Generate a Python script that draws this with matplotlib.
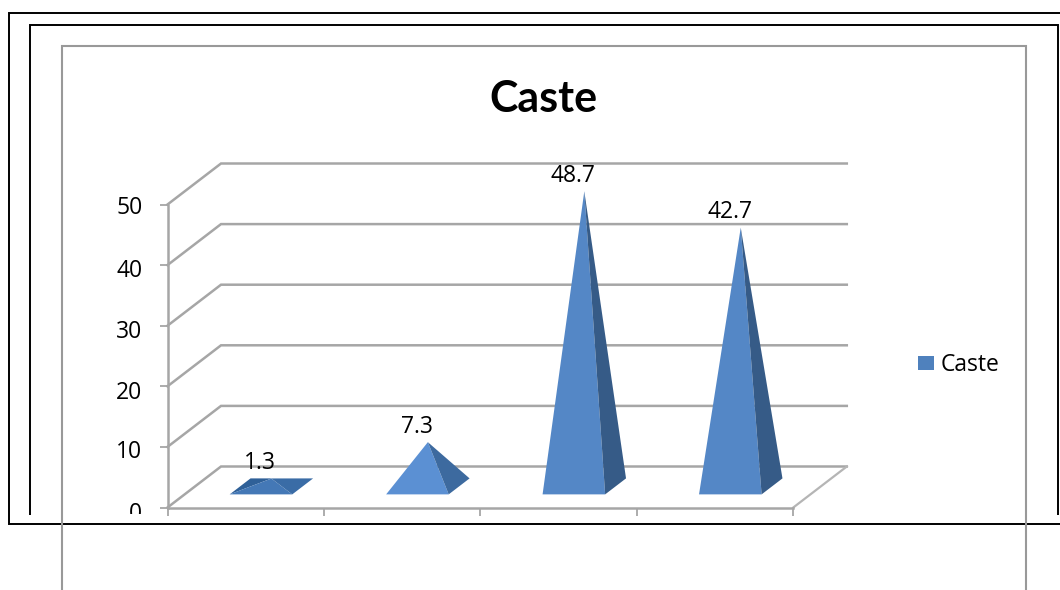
import matplotlib
matplotlib.use("Agg")
import matplotlib.pyplot as plt
from matplotlib.lines import Line2D
from matplotlib.patches import Patch, Polygon
from matplotlib.transforms import Bbox, Affine2D

W, H = 1060, 590

categories = ["1", "2", "3", "4"]
values = [1.3, 7.3, 48.7, 42.7]
value_ticks = [0, 10, 20, 30, 40, 50]
series_name = "Caste"

plt.rcParams["font.family"] = ["Open Sans", "DejaVu Sans"]

GRID = "#a6a6a6"
FRONT = ["#4478b6", "#5b90d3", "#5487c6", "#5487c6"]
SIDE = ["#3a6ca6", "#3d6a9f", "#365b87", "#365b87"]
SHADOW_FACE = "#2f6098"
LABEL_DROP = [3, 2.5, 3.5, 3, 3, 0.5]

fig = plt.figure(figsize=(W / 100, H / 100), dpi=100, facecolor="white")
left, right, top, bottom = 167.5, 793.3, 204.5, 507.5
ax = fig.add_axes([left / W, 1 - bottom / H, (right - left) / W, (bottom - top) / H])
ax.set_xlim(0, len(categories))
ax.set_ylim(0, 50)
ax.patch.set_visible(False)

x_unit = (right - left) / len(categories)
y_unit = (bottom - top) / 50
depth_x = 53.5 / x_unit
depth_y = 41 / y_unit


def project(x, v, d):
    """Place a point of the 3D box: category x, value v, depth d from 0 to 1."""
    return x + d * depth_x, v + d * depth_y


# Back wall gridlines with their slanted returns on the side wall
for v in value_ticks:
    ax.plot(*zip(project(0, v, 0), project(0, v, 1), project(len(categories), v, 1)),
            color=GRID, lw=1.8, clip_on=False, zorder=1, solid_joinstyle="miter")
ax.plot(*zip(project(len(categories), 0, 0), project(len(categories), 0, 1)),
        color="#b5b5b5", lw=1.6, clip_on=False, zorder=1)

# Square pyramids: front and right faces are the ones in view
half = 0.2
d_front, d_rear, d_mid = 0.32, 0.71, 0.515
for i, v in enumerate(values):
    cx = i + 0.5 - 0.012
    a = project(cx - half, 0, d_front)
    b = project(cx + half, 0, d_front)
    c = project(cx + half, 0, d_rear)
    apex = project(cx, v, d_mid)
    if v < 3:
        # So flat that the left face and the rear edge show as well
        rear_left = project(cx - half, 0, d_rear)
        ax.add_patch(Polygon([a, rear_left, c, apex], closed=True, fc=SHADOW_FACE, ec="none",
                             clip_on=False, zorder=3))
    ax.add_patch(Polygon([a, b, apex], closed=True, fc=FRONT[i], ec="none",
                         clip_on=False, zorder=4))
    ax.add_patch(Polygon([b, c, apex], closed=True, fc=SIDE[i], ec="none",
                         clip_on=False, zorder=4))
    ax.annotate(f"{v}", xy=apex, xytext=(-8, 11.2), textcoords="offset points",
                ha="center", va="center", fontsize=16.5, color="black",
                annotation_clip=False, zorder=6)

# Axes, ticks and tick labels
for side in ("top", "right"):
    ax.spines[side].set_visible(False)
for side in ("left", "bottom"):
    ax.spines[side].set_color(GRID)
    ax.spines[side].set_linewidth(1.8)
ax.set_yticks(value_ticks)
ax.set_xticks(range(len(categories) + 1))
ax.set_xticklabels([])
ax.tick_params(axis="both", color=GRID, width=1.3, length=5.6, direction="out")
ax.tick_params(axis="y", labelsize=16.5, pad=12.5, labelcolor="black")

# The tick labels sit a little under their ticks; the chart is also cut off
# just under the axis
cut = Bbox([[0, H - 514], [W, H]])
fig.canvas.draw()
for drop, lab in zip(LABEL_DROP, ax.get_yticklabels()):
    lab.set_transform(lab.get_transform() + Affine2D().translate(0, -drop))
    lab.set_clip_box(cut)
    lab.set_clip_on(True)

fig.text(543.5 / W, 1 - 99 / H, series_name, fontsize=31, fontweight="bold", family="Lato",
         ha="center", va="center", color="black")

ax.legend(handles=[Patch(facecolor="#4f81bd", label=series_name)],
          loc="center left", bbox_to_anchor=(918 / W, 1 - 365 / H),
          bbox_transform=fig.transFigure, frameon=False, fontsize=16.5,
          handlelength=0.7, handleheight=0.58, handletextpad=0.3, borderpad=0, borderaxespad=0)

# Nested page frames around the chart
px = Affine2D().scale(1 / W, -1 / H).translate(0, 1) + fig.transFigure


def frame(xs, ys, color, lw):
    fig.add_artist(Line2D(xs, ys, transform=px, color=color, lw=lw,
                          solid_joinstyle="miter", solid_capstyle="butt"))


frame([1060, 9, 9, 1060], [13, 13, 524, 524], "black", 1.4)
frame([30, 30, 1057.5, 1057.5], [515, 24.5, 24.5, 515], "black", 1.4)
frame([61.5, 61.5, 1026, 1026], [590, 46, 46, 590], "#999999", 1.5)

fig.savefig("out.png", dpi=100, facecolor="white")
